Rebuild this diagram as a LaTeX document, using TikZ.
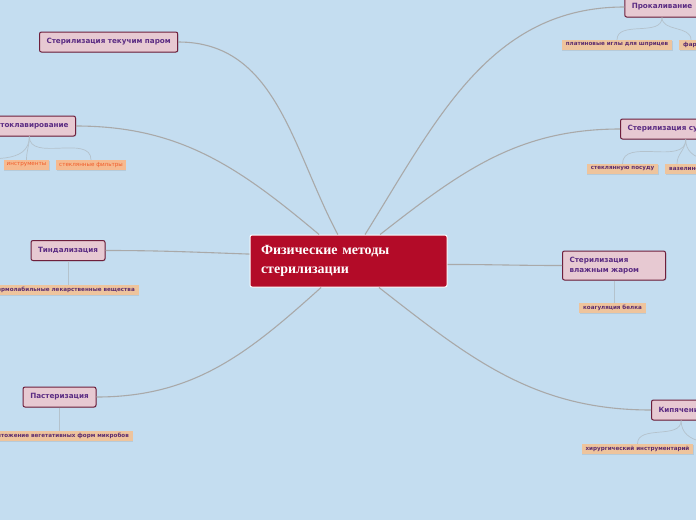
\documentclass[tikz,border=0pt]{standalone}
\usepackage{fontspec}
\usepackage{xcolor}
\usepackage{tikz}
\usetikzlibrary{shadows,calc}
\newfontfamily\mapsans{DejaVu Sans}
\newfontfamily\mapserif{Liberation Serif}
\definecolor{mapbg}{HTML}{C4DDF0}
\definecolor{mainred}{HTML}{B30B28}
\definecolor{topicfill}{HTML}{E7C9D2}
\definecolor{topicline}{HTML}{6E1F3C}
\definecolor{topictext}{HTML}{5B2C83}
\definecolor{subfill}{HTML}{EEC49D}
\definecolor{subtext}{HTML}{5B2C6F}
\definecolor{autofill}{HTML}{F6BA90}
\definecolor{autotext}{HTML}{F05A28}
\definecolor{mainlink}{HTML}{A9A9A9}
\definecolor{sublink}{HTML}{B4C2CC}

\tikzset{
  mainbox/.style={draw=white, line width=1pt, fill=mainred, rounded corners=2pt,
    text=white, align=left, text width=175pt, inner xsep=11pt, minimum height=52pt,
    font=\mapserif\bfseries\fontsize{14}{18.5}\selectfont},
  topic/.style={draw=topicline, line width=1pt, fill=topicfill, rounded corners=2pt,
    text=topictext, minimum height=20pt, inner xsep=7pt, inner ysep=0pt,
    font=\mapsans\bfseries\fontsize{7.2}{9}\selectfont,
    drop shadow={opacity=0.25, shadow xshift=0.8pt, shadow yshift=-0.8pt}},
  subtopic/.style={fill=subfill, text=subtext, minimum height=10pt, inner xsep=4pt,
    inner ysep=0pt, font=\mapsans\bfseries\fontsize{5.6}{7}\selectfont,
    drop shadow={opacity=0.2, shadow xshift=0.6pt, shadow yshift=-0.8pt}},
  autosub/.style={subtopic, fill=autofill, text=autotext, inner xsep=3pt,
    font=\mapsans\fontsize{5.6}{7}\selectfont},
  mainlink/.style={draw=mainlink, line width=1.1pt},
  sublink/.style={draw=sublink, line width=0.7pt}
}

\begin{document}
\begin{tikzpicture}[x=1pt, y=-1pt]
    \useasboundingbox[fill=mapbg] (0,0) rectangle (696,520);
    \clip (0,0) rectangle (696,520);

    % ========== Centre ==========
    \node[mainbox] (main) at (348.5,261) {Физические методы\\стерилизации};

    % ========== Left side ==========
    \node[topic, anchor=west, minimum width=137pt] (texpar) at (39,42) {Стерилизация текучим паром};
    \node[topic, anchor=east] (autoclav) at (76,126) {Автоклавирование};
    \node[topic, minimum width=74pt] (tyndal) at (68,250.5) {Тиндализация};
    \node[topic, minimum width=73pt] (paster) at (59.5,397) {Пастеризация};

    % Podtemy sleva
    \node[autosub] (instr) at (26.5,165) {инструменты};
    \node[autosub] (filters) at (91,165) {стеклянные фильтры};
    \coordinate (autoleft) at (-40,158);
    \node[subtopic, anchor=east] (thermolab) at (139,290) {термолабильные лекарственные вещества};
    \node[subtopic, anchor=east] (vegetat) at (133,436) {уничтожение вегетативных форм микробов};

    % ========== Right side ==========
    \node[topic, minimum width=68pt] (prokal) at (662,7) {Прокаливание};
    \node[topic, anchor=west] (dryheat) at (620,129) {Стерилизация сухим жаром};
    \node[topic, anchor=west, align=left, minimum width=103pt, minimum height=29pt,
          text width=89pt, font=\mapsans\bfseries\fontsize{7.2}{10}\selectfont] (wetheat) at (562,265.5)
          {Стерилизация\\влажным жаром};
    \node[topic, anchor=west] (boiling) at (651,410) {Кипячение};

    % Podtemy sprava
    \node[subtopic] (platinum) at (617,45) {платиновые иглы для шприцев};
    \node[subtopic, anchor=west] (porcelain) at (679,45) {фарфоровые ступки};
    \node[subtopic] (glassware) at (622.5,169) {стеклянную посуду};
    \node[subtopic, anchor=west] (vaseline) at (665,169) {вазелиновое масло};
    \coordinate (dryright) at (740,162);
    \node[subtopic] (coagul) at (612.5,308) {коагуляция белка};
    \node[subtopic] (surgical) at (637.5,449) {хирургический инструментарий};
    \coordinate (boilright) at (740,444);

    % ========== Links from the centre ==========
    \draw[mainlink] (main.112) to[out=118, in=0] (texpar.east);
    \draw[mainlink] (main.138) to[out=140, in=0] (autoclav.east);
    \draw[mainlink] (main.176) to[out=178, in=0] (tyndal.east);
    \draw[mainlink] (main.224) to[out=222, in=0] (paster.east);
    \draw[mainlink] (main.58) to[out=58, in=180] (prokal.west);
    \draw[mainlink] (main.40) to[out=38, in=180] (dryheat.west);
    \draw[mainlink] (main.358) to[out=0, in=180] (wetheat.west);
    \draw[mainlink] (main.319) to[out=-38, in=180] (boiling.west);

    % ========== Links to the subtopics ==========
    \draw[sublink] (autoclav.south) to[out=-90, in=0] (autoleft);
    \draw[sublink] (autoclav.south) to[out=-90, in=90] (instr.north);
    \draw[sublink] (autoclav.south) to[out=-90, in=90] (filters.north);
    \draw[sublink] (tyndal.south) -- (tyndal.south |- thermolab.north);
    \draw[sublink] (paster.south) -- (paster.south |- vegetat.north);
    \draw[sublink] (prokal.south) to[out=-90, in=90] (platinum.north);
    \draw[sublink] (prokal.south) to[out=-90, in=90] ($(porcelain.north west)+(12,0)$);
    \draw[sublink] (dryheat.south) to[out=-90, in=90] (glassware.north);
    \draw[sublink] (dryheat.south) to[out=-90, in=90] ($(vaseline.north west)+(12,0)$);
    \draw[sublink] (dryheat.south) to[out=-90, in=180] (dryright);
    \draw[sublink] (wetheat.south) -- (wetheat.south |- coagul.north);
    \draw[sublink] (boiling.south) to[out=-90, in=90] (surgical.north);
    \draw[sublink] (boiling.south) to[out=-90, in=180] (boilright);
\end{tikzpicture}
\end{document}
